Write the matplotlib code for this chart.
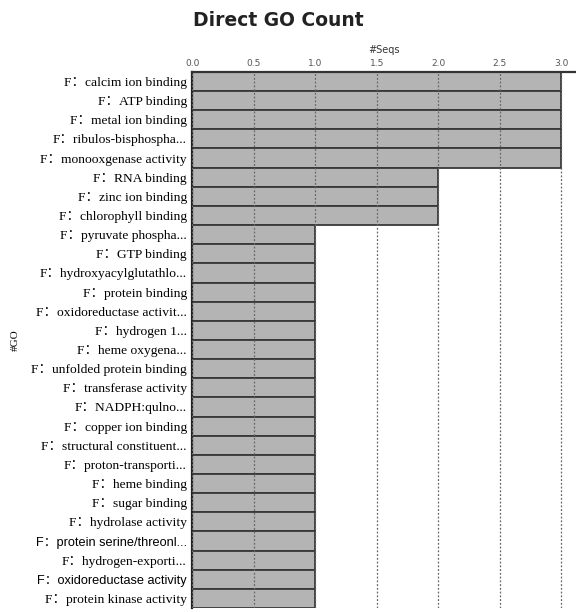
import matplotlib
matplotlib.use("Agg")
import matplotlib.pyplot as plt
import numpy as np

# GO terms (molecular function) and the number of sequences annotated with each
terms = [
    "calcim ion binding",
    "ATP binding",
    "metal ion binding",
    "ribulos-bisphospha...",
    "monooxgenase activity",
    "RNA binding",
    "zinc ion binding",
    "chlorophyll binding",
    "pyruvate phospha...",
    "GTP binding",
    "hydroxyacylglutathlo...",
    "protein binding",
    "oxidoreductase activit...",
    "hydrogen 1...",
    "heme oxygena...",
    "unfolded protein binding",
    "transferase activity",
    "NADPH:qulno...",
    "copper ion binding",
    "structural constituent...",
    "proton-transporti...",
    "heme binding",
    "sugar binding",
    "hydrolase activity",
    "protein serine/threonl...",
    "hydrogen-exporti...",
    "oxidoreductase activity",
    "protein kinase activity",
]
seqs = [3, 3, 3, 3, 3, 2, 2, 2] + [1] * 20
x_ticks = [0.0, 0.5, 1.0, 1.5, 2.0, 2.5, 3.0]

labels = ["F\uff1a" + t for t in terms]
serif = ["Liberation Serif", "Noto Sans CJK SC"]
sans_rows = {"protein serine/threonl...", "oxidoreductase activity"}

fig = plt.figure(figsize=(5.76, 6.12), dpi=100)
ax = fig.add_axes([0.334, 0.0065, 0.666, 0.876])

y = np.arange(len(terms))
ax.barh(y, seqs, height=1.0, color="#b4b4b4", edgecolor="#383838",
        linewidth=1.3, zorder=2)

ax.set_ylim(len(terms) - 0.5, -0.5)
ax.set_xlim(0, 3.12)

ax.xaxis.tick_top()
ax.xaxis.set_label_position("top")
ax.set_xticks(x_ticks)
ax.set_xticklabels([f"{v:.1f}" for v in x_ticks], fontsize=6.5,
                   color="#555555", family="DejaVu Sans")
ax.tick_params(axis="x", length=0, pad=3)
ax.set_xlabel("#Seqs", fontsize=7, color="#333333", labelpad=4)

ax.set_yticks(y)
ax.set_yticklabels(labels, fontsize=9.7, family=serif)
for lbl, t in zip(ax.get_yticklabels(), terms):
    if t in sans_rows:
        lbl.set_family(["Liberation Sans Narrow", "Liberation Sans", "Noto Sans CJK SC"])
        lbl.set_fontsize(9.2)
ax.tick_params(axis="y", length=0, pad=4)
ax.set_ylabel("#GO", fontsize=8, family=serif, labelpad=8)

ax.grid(axis="x", color="#666666", linestyle=(0, (1.5, 1.5)), linewidth=0.9,
        zorder=3)
ax.set_axisbelow(False)

for side in ("right", "bottom"):
    ax.spines[side].set_visible(False)
ax.spines["top"].set_linewidth(1.6)
ax.spines["top"].set_color("#333333")
ax.spines["left"].set_linewidth(1.6)
ax.spines["left"].set_color("#222222")

fig.text(0.484, 0.967, "Direct GO Count", ha="center", va="center",
         fontsize=13.5, fontweight="bold", family="DejaVu Sans", color="#222222")

fig.savefig("out.png", dpi=100)
